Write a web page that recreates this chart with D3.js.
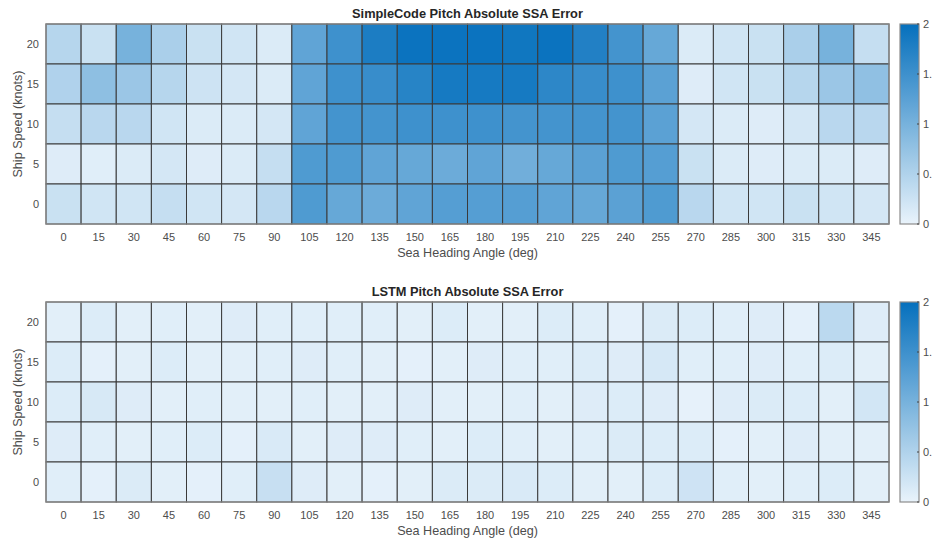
<!DOCTYPE html>
<html>
<head>
<meta charset="utf-8">
<script src="https://cdn.jsdelivr.net/npm/d3@7"></script>
<style>
  html, body { margin: 0; padding: 0; background: #fff; }
  svg { display: block; font-family: "Liberation Sans", Arial, Helvetica, sans-serif; }
</style>
</head>
<body>
<svg id="chart" width="932" height="542"></svg>
<script>
// Sea heading angles (columns) and ship speeds (rows, top to bottom)
const headings = [0, 15, 30, 45, 60, 75, 90, 105, 120, 135, 150, 165, 180, 195, 210, 225, 240, 255, 270, 285, 300, 315, 330, 345];
const speeds = [20, 15, 10, 5, 0];

// SimpleCode pitch absolute SSA error, one array per speed
const simpleCode20 = [0.45, 0.28, 1.00, 0.55, 0.28, 0.22, 0.12, 1.20, 1.50, 1.80, 1.95, 1.95, 1.95, 1.90, 1.95, 1.75, 1.45, 1.15, 0.12, 0.22, 0.28, 0.55, 1.00, 0.32];
const simpleCode15 = [0.50, 0.80, 0.68, 0.45, 0.25, 0.18, 0.12, 1.20, 1.50, 1.55, 1.70, 1.85, 1.85, 1.85, 1.65, 1.55, 1.50, 1.25, 0.10, 0.22, 0.28, 0.45, 0.68, 0.78];
const simpleCode10 = [0.32, 0.42, 0.42, 0.22, 0.12, 0.12, 0.18, 1.20, 1.45, 1.45, 1.50, 1.50, 1.50, 1.45, 1.45, 1.45, 1.45, 1.25, 0.18, 0.12, 0.10, 0.18, 0.42, 0.42];
const simpleCode5  = [0.10, 0.08, 0.12, 0.18, 0.10, 0.12, 0.32, 1.35, 1.35, 1.20, 1.15, 1.10, 1.20, 1.05, 1.15, 1.25, 1.35, 1.30, 0.28, 0.12, 0.10, 0.12, 0.12, 0.10];
const simpleCode0  = [0.28, 0.22, 0.22, 0.32, 0.22, 0.18, 0.42, 1.35, 1.15, 1.10, 1.20, 1.30, 1.30, 1.30, 1.20, 1.15, 1.25, 1.35, 0.42, 0.22, 0.22, 0.28, 0.22, 0.18];

// LSTM pitch absolute SSA error, one array per speed
const lstm20 = [0.06, 0.11, 0.06, 0.08, 0.06, 0.10, 0.08, 0.08, 0.08, 0.08, 0.06, 0.11, 0.06, 0.06, 0.11, 0.08, 0.04, 0.12, 0.11, 0.08, 0.10, 0.04, 0.40, 0.10];
const lstm15 = [0.11, 0.04, 0.06, 0.11, 0.06, 0.06, 0.08, 0.10, 0.08, 0.06, 0.04, 0.06, 0.10, 0.08, 0.08, 0.11, 0.10, 0.17, 0.08, 0.08, 0.10, 0.08, 0.11, 0.06];
const lstm10 = [0.11, 0.16, 0.10, 0.06, 0.08, 0.06, 0.06, 0.08, 0.06, 0.06, 0.10, 0.06, 0.06, 0.08, 0.06, 0.10, 0.11, 0.10, 0.03, 0.10, 0.12, 0.11, 0.06, 0.20];
const lstm5  = [0.10, 0.08, 0.06, 0.08, 0.11, 0.04, 0.14, 0.06, 0.10, 0.10, 0.08, 0.06, 0.11, 0.08, 0.06, 0.08, 0.12, 0.11, 0.11, 0.04, 0.06, 0.10, 0.06, 0.06];
const lstm0  = [0.08, 0.04, 0.12, 0.06, 0.04, 0.08, 0.30, 0.10, 0.06, 0.04, 0.06, 0.12, 0.12, 0.14, 0.11, 0.06, 0.06, 0.11, 0.24, 0.08, 0.06, 0.08, 0.11, 0.06];

const colorbarTicks = [0, 0.5, 1, 1.5, 2];
const colorDomain = [0, 2];

const panels = [
  { title: "SimpleCode Pitch Absolute SSA Error", rows: [simpleCode20, simpleCode15, simpleCode10, simpleCode5, simpleCode0], top: 24 },
  { title: "LSTM Pitch Absolute SSA Error", rows: [lstm20, lstm15, lstm10, lstm5, lstm0], top: 302 }
];

const svg = d3.select("#chart");
const left = 46, right = 889, plotH = 200;
const cbX = 900, cbW = 19;

const color = d3.scaleLinear()
  .domain(colorDomain)
  .range(["#e9f3fb", "#0570bd"])
  .interpolate(d3.interpolateRgb);

const textColor = "#4d4d4d";
const defs = svg.append("defs");

panels.forEach((p, pi) => {
  const g = svg.append("g");
  const x = d3.scaleBand().domain(headings).range([left, right]);
  const y = d3.scaleBand().domain(speeds).range([p.top, p.top + plotH]);

  const cells = [];
  p.rows.forEach((arr, ri) => arr.forEach((v, ci) => cells.push({ s: speeds[ri], h: headings[ci], v })));

  g.selectAll("rect.cell").data(cells).enter().append("rect")
    .attr("class", "cell")
    .attr("x", d => x(d.h))
    .attr("y", d => y(d.s))
    .attr("width", x.bandwidth())
    .attr("height", y.bandwidth())
    .attr("fill", d => color(d.v))
    .attr("stroke", "#3a3a3a")
    .attr("stroke-width", 1);

  // outer frame
  g.append("rect")
    .attr("x", left).attr("y", p.top)
    .attr("width", right - left).attr("height", plotH)
    .attr("fill", "none").attr("stroke", "#8c8c8c").attr("stroke-width", 1.2);

  // x tick labels
  g.selectAll("text.xt").data(headings).enter().append("text")
    .attr("x", d => x(d) + x.bandwidth() / 2)
    .attr("y", p.top + plotH + 17)
    .attr("text-anchor", "middle")
    .attr("font-size", 11)
    .attr("fill", textColor)
    .text(d => d);

  // y tick labels
  g.selectAll("text.yt").data(speeds).enter().append("text")
    .attr("x", 39)
    .attr("y", d => y(d) + y.bandwidth() / 2 + 4)
    .attr("text-anchor", "end")
    .attr("font-size", 11)
    .attr("fill", textColor)
    .text(d => d);

  // axis titles
  g.append("text")
    .attr("x", (left + right) / 2)
    .attr("y", p.top + plotH + 33)
    .attr("text-anchor", "middle")
    .attr("font-size", 12.6)
    .attr("fill", textColor)
    .text("Sea Heading Angle (deg)");

  g.append("text")
    .attr("transform", `translate(22,${p.top + plotH / 2}) rotate(-90)`)
    .attr("text-anchor", "middle")
    .attr("font-size", 12.6)
    .attr("fill", textColor)
    .text("Ship Speed (knots)");

  g.append("text")
    .attr("x", (left + right) / 2)
    .attr("y", p.top - 6)
    .attr("text-anchor", "middle")
    .attr("font-size", 12.8)
    .attr("font-weight", "bold")
    .attr("fill", "#262626")
    .text(p.title);

  // colorbar
  const gradId = "cbGrad" + pi;
  const grad = defs.append("linearGradient")
    .attr("id", gradId).attr("x1", 0).attr("y1", 1).attr("x2", 0).attr("y2", 0);
  d3.range(0, 1.0001, 0.1).forEach(t => {
    grad.append("stop").attr("offset", t).attr("stop-color", color(colorDomain[0] + t * (colorDomain[1] - colorDomain[0])));
  });
  const cy = d3.scaleLinear().domain(colorDomain).range([p.top + plotH, p.top]);
  g.append("rect")
    .attr("x", cbX).attr("y", p.top)
    .attr("width", cbW).attr("height", plotH)
    .attr("fill", `url(#${gradId})`)
    .attr("stroke", "#8c8c8c").attr("stroke-width", 1.2);
  g.selectAll("line.cbt").data(colorbarTicks).enter().append("line")
    .attr("x1", cbX + cbW - 2).attr("x2", cbX + cbW)
    .attr("y1", d => cy(d)).attr("y2", d => cy(d))
    .attr("stroke", "#404040").attr("stroke-width", 1);
  // tick labels sit at the figure's right edge, as in the exported figure
  g.selectAll("text.cbl").data(colorbarTicks).enter().append("text")
    .attr("x", cbX + cbW + 4)
    .attr("y", d => cy(d) + 4)
    .attr("font-size", 11)
    .attr("fill", textColor)
    .text(d => d);
});
</script>
</body>
</html>
